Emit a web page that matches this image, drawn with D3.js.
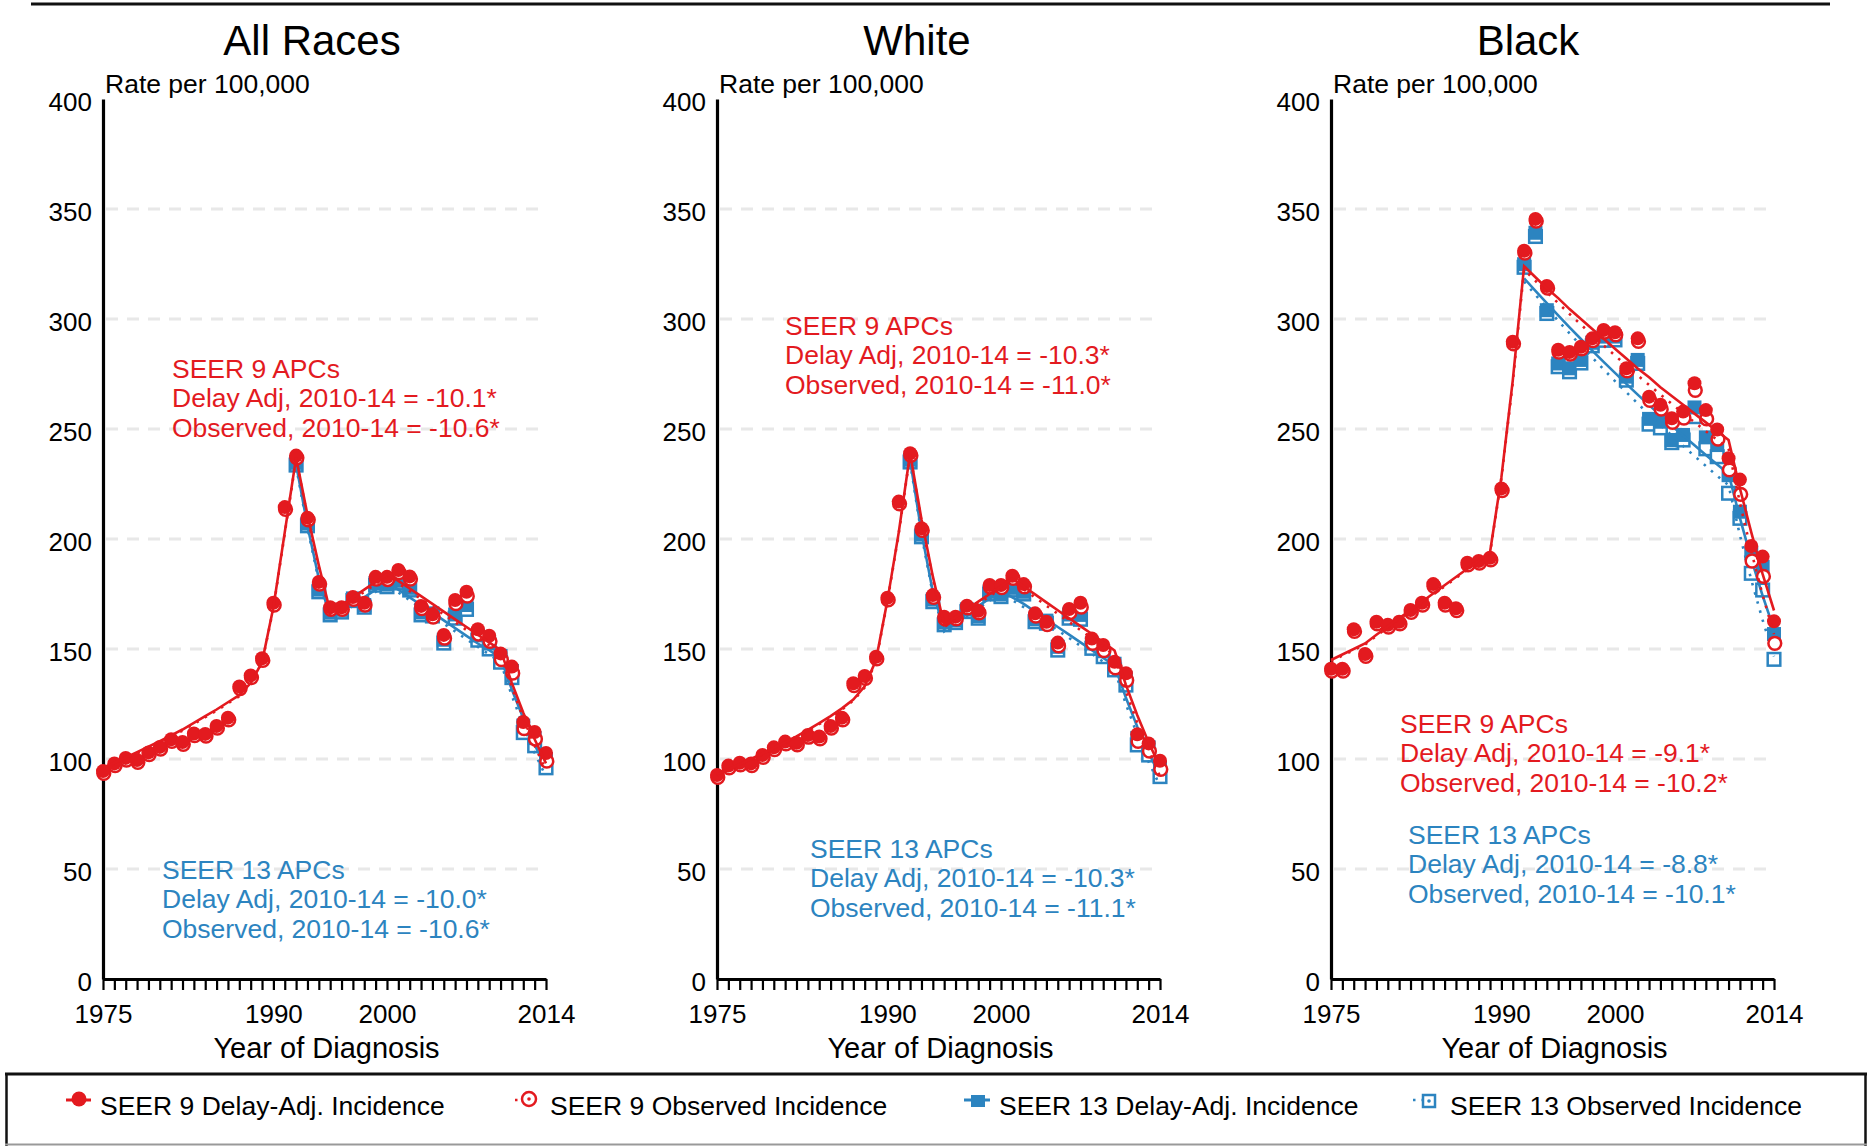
<!DOCTYPE html>
<html>
<head>
<meta charset="utf-8">
<script src="https://cdn.jsdelivr.net/npm/d3@7"></script>
<style>
  body { margin: 0; background: #fff; }
  svg { display: block; }
</style>
</head>
<body>
<svg id="chart" width="1873" height="1146"></svg>
<script>
// ---------------- DATA ----------------
const years9 = [1975,1976,1977,1978,1979,1980,1981,1982,1983,1984,1985,1986,1987,1988,1989,1990,1991,1992,1993,1994,1995,1996,1997,1998,1999,2000,2001,2002,2003,2004,2005,2006,2007,2008,2009,2010,2011,2012,2013,2014];
const years13 = [1992,1993,1994,1995,1996,1997,1998,1999,2000,2001,2002,2003,2004,2005,2006,2007,2008,2009,2010,2011,2012,2013,2014];
const panelTitles = ["All Races", "White", "Black"];
const xTickLabels = [1975, 1990, 2000, 2014];
const yTicks = [0, 50, 100, 150, 200, 250, 300, 350, 400];
const gridValues = [50, 100, 150, 200, 250, 300, 350];
const legendLabels = ["SEER 9 Delay-Adj. Incidence", "SEER 9 Observed Incidence", "SEER 13 Delay-Adj. Incidence", "SEER 13 Observed Incidence"];

// All Races
const allS9Delay = [94.5,98,100.5,99.5,103,105.5,109,107.7,111.6,111.4,115,118.8,133,138,145.8,171,214.5,237.9,209.7,180.5,169,169,173.6,171,182.8,182.8,185.9,183,169.6,165.8,156.4,172.3,176,159,156,148,142,116.8,112.3,102.7];
const allS9Obs = [93.5,97,99.5,98.5,102,104.5,108,106.7,110.6,110.4,114,117.8,132,137,144.8,170,213.5,236.9,208.7,179.5,168,168,172.6,170,181.8,181.6,184.7,181.8,168.4,164.5,154.9,170.6,174,156.8,153.5,145.2,139,113.8,109.1,99];
const allS13Delay = [234.6,207,177,166.5,167.8,173,170,180,179.3,181,177.8,166.6,166.2,154.2,165.7,170,156.2,152.5,146.8,140,115.2,109.5,100];
const allS13Obs = [233.6,206,176,165.5,166.8,172,169,179,178.3,180,176.8,165.5,165,152.7,164,168,154,150,144,137,112,106,96];
const allT9Delay = [96,98.3,100.7,103.1,105.6,108.1,110.7,113.4,116.4,119.5,122.5,125.8,129,134.5,144,169,203,237,211,188,167,170,173.5,177,180.5,184,181,177.5,174,170.5,167,163.5,160,156.5,153,149.5,134.5,121,109,98];
const allT9Obs = [95.5,97.8,100.2,102.6,105.1,107.6,110.2,112.9,115.9,119,122,125.3,128.5,134,143.5,168.5,202.5,236.5,210,187,166,169,172.5,176,179.5,183,179.8,176.3,172.7,169.2,165.7,162.2,158.6,155.2,151.7,148.2,132.5,118.5,106,94.8];
const allT13Delay = [234,206,182,164.5,167.5,170.5,173.5,177,180.5,177,173.5,170,166.5,163,159.5,156,152.5,149.5,146,131.5,118.5,106.5,96];
const allT13Obs = [233,205,181,163.5,166.5,169.5,172.5,176,179.3,175.7,172.2,168.6,165,161.5,158,154.4,151,147.5,144,128.7,115,102.8,91.9];

// White
const whiteS9Delay = [92.7,97,98.3,98,101.8,105.3,107.9,107.4,110.9,110.2,115,118.8,134.4,137.7,146.5,173.3,217,239,204.9,174.5,164.7,164.7,169.7,167.4,179.1,179.1,183.3,179.5,166.2,162.4,152.9,168.2,171,154.8,151.8,144.2,139,111.2,107.1,99.2];
const whiteS9Obs = [91.7,96,97.3,97,100.8,104.3,106.9,106.4,109.9,109.2,114,117.8,133.4,136.7,145.5,172.3,216,238,203.9,173.5,163.7,163.7,168.7,166.4,178.1,177.9,182.1,178.3,165,161.1,151.4,166.5,169,152.6,149.3,141.4,135.8,108,103.6,95.3];
const whiteS13Delay = [236,202,172.5,162,163,168,165,176,174.8,177.8,176,163.5,162.9,151,165.7,165.5,152.5,149,143.3,136.6,109.6,105.3,96];
const whiteS13Obs = [235,201,171.5,161,162,167,164,175,173.8,176.8,175,162.4,161.7,149.5,164,163.5,150.3,146.5,140.5,133.6,106.4,101.8,92];
const whiteT9Delay = [93,95.3,97.6,100,102.5,105,107.6,110.3,113.2,116.3,119.5,123,127,133,145,172,203,239,209,183,161,164.5,168,171.5,175,178.5,182,178.4,174.8,171.2,167.6,164,160.4,156.8,153,149.3,133.7,119.9,107.5,96.5];
const whiteT9Obs = [92.5,94.8,97.1,99.5,102,104.5,107.1,109.8,112.7,115.8,119,122.5,126.5,132.5,144.5,171.5,202.5,238.5,208,182,160,163.5,167,170.5,174,177.5,180.8,177.1,173.4,169.7,166,162.3,158.6,154.9,151,147,130.8,116.4,103.6,92.2];
const whiteT13Delay = [236,203,176,159,162.5,166,169.5,173,176.5,173.5,170.5,167,163.5,160,156.5,153,149.5,146,142.5,127.8,114.7,102.9,92.3];
const whiteT13Obs = [235,202,175,158,161.5,165,168.5,172,175.3,172.2,169,165.5,162,158.5,155,151.4,147.8,144.2,140.5,124.9,111,98.7,87.7];

// Black
const blackS9Delay = [141,141,159,147.7,162.4,161,162.4,167.7,171,179.5,171,168.5,189.2,190,191.5,223,289.7,331,345.5,315,286,285,287.4,291.2,295,294,277.6,291.2,264.7,261,254.9,257.9,270.8,258.6,249.8,236.7,227,196.8,192,162.6];
const blackS9Obs = [140,140,158,146.7,161.4,160,161.4,166.7,170,178.5,170,167.5,188.2,189,190.5,222,288.7,330,344.5,314,285,284,286.4,290.2,294,292.8,276.4,289.8,263,259,253,255,267.6,254.6,245.4,231.4,220.3,190,183,152.6];
const blackS13Delay = [324.9,339.2,304,279.8,277.6,281.4,289.2,292,292,273.8,281.4,254.6,253.3,245,247.3,259.8,246.2,242.7,229,212.4,193.5,187.4,156.8];
const blackS13Obs = [323.5,337.5,302.5,278.3,276,280,287.8,290.3,290.5,272.2,279.8,252.2,250.5,243.8,245,255.6,241,237.4,220.8,209.4,184.4,176.8,145.3];
const blackT9Delay = [145,147.5,150,152.5,156.5,160.2,164,167.7,171.5,175.2,179,182.7,186.5,190.2,194,228,272,324,319,314,309.5,304.5,300,295.5,291,286.5,282,277.5,273.5,269,265,261,257,253,249,245,223,203,184,167.5];
const blackT9Obs = [144.5,147,149.5,152,156,159.7,163.5,167.2,171,174.7,178.5,182.2,186,189.7,193.5,227.5,271,322.5,317.3,312.2,307.2,302.3,297.5,292.7,288,283.4,278.9,274.4,270,265.7,261.4,257.2,253.1,249,245,241,216.4,194.4,174.5,156.7];
const blackT13Delay = [318.5,312.8,307.2,301.6,296.2,290.9,285.6,280.5,275.5,270.5,265.6,260.9,256.2,251.5,247,242.6,238.2,233.9,229.7,209.5,191,174.2,158.9];
const blackT13Obs = [317,311,305,299.2,293.5,287.9,282.5,277.1,271.8,266.7,261.6,256.6,251.8,247,242.3,237.7,233.2,228.7,224.4,201.7,181.4,163.1,146.6];

const notes9 = [
  ["SEER 9 APCs", "Delay Adj, 2010-14 = -10.1*", "Observed, 2010-14 = -10.6*"],
  ["SEER 9 APCs", "Delay Adj, 2010-14 = -10.3*", "Observed, 2010-14 = -11.0*"],
  ["SEER 9 APCs", "Delay Adj, 2010-14 = -9.1*", "Observed, 2010-14 = -10.2*"]
];
const notes13 = [
  ["SEER 13 APCs", "Delay Adj, 2010-14 = -10.0*", "Observed, 2010-14 = -10.6*"],
  ["SEER 13 APCs", "Delay Adj, 2010-14 = -10.3*", "Observed, 2010-14 = -11.1*"],
  ["SEER 13 APCs", "Delay Adj, 2010-14 = -8.8*", "Observed, 2010-14 = -10.1*"]
];

// ---------------- LAYOUT / STYLE ----------------
const FONT = "'Liberation Sans', Arial, Helvetica, sans-serif";
const RED = "#e31a1f";
const BLUE = "#2c84c0";
const layout = {
  panelX0: [103, 717, 1331],
  plotW: 443,
  yTop: 99,
  yBottom: 979,
  titleX: [312, 917, 1528],
  titleY: 55,
  note9Pos: [[172, 378], [785, 335], [1400, 733]],
  note13Pos: [[162, 879], [810, 858], [1408, 844]],
  noteLH: 29.3,
  legendTextX: [100, 550, 999, 1450],
  legendY: 1115,
  legendMarkY: 1100
};

const panels = [
  {s9d: allS9Delay, s9o: allS9Obs, s13d: allS13Delay, s13o: allS13Obs, t9d: allT9Delay, t9o: allT9Obs, t13d: allT13Delay, t13o: allT13Obs},
  {s9d: whiteS9Delay, s9o: whiteS9Obs, s13d: whiteS13Delay, s13o: whiteS13Obs, t9d: whiteT9Delay, t9o: whiteT9Obs, t13d: whiteT13Delay, t13o: whiteT13Obs},
  {s9d: blackS9Delay, s9o: blackS9Obs, s13d: blackS13Delay, s13o: blackS13Obs, t9d: blackT9Delay, t9o: blackT9Obs, t13d: blackT13Delay, t13o: blackT13Obs}
];

const svg = d3.select("#chart");
svg.append("rect").attr("width", 1873).attr("height", 1146).attr("fill", "#fff");

// top rule
svg.append("line").attr("x1", 31).attr("x2", 1830).attr("y1", 4).attr("y2", 4)
  .attr("stroke", "#111").attr("stroke-width", 3);

const zip = (yrs, vals) => yrs.map((yr, i) => ({year: yr, value: vals[i]}));

panels.forEach((p, i) => {
  const x0 = layout.panelX0[i];
  const x = d3.scaleLinear().domain([1975, 2014]).range([x0, x0 + layout.plotW]);
  const y = d3.scaleLinear().domain([0, 400]).range([layout.yBottom, layout.yTop]);
  const g = svg.append("g");

  // title
  g.append("text").attr("x", layout.titleX[i]).attr("y", layout.titleY)
    .attr("text-anchor", "middle").attr("font-family", FONT).attr("font-size", 42)
    .attr("fill", "#000").text(panelTitles[i]);

  // gridlines
  g.selectAll("line.grid").data(gridValues).join("line").attr("class", "grid")
    .attr("x1", x0 + 3).attr("x2", x(2014) - 2)
    .attr("y1", d => y(d)).attr("y2", d => y(d))
    .attr("stroke", "#e8e8e8").attr("stroke-width", 3).attr("stroke-dasharray", "12,9");

  // y axis
  const yAxis = d3.axisLeft(y).tickValues(yTicks).tickSize(0).tickSizeOuter(0).tickPadding(11);
  const yg = g.append("g").attr("transform", `translate(${x0},0)`).call(yAxis);
  yg.attr("font-family", FONT).attr("font-size", 26);
  yg.select(".domain").attr("stroke", "#000").attr("stroke-width", 3.2);
  yg.selectAll(".tick text").attr("fill", "#000").attr("dy", "0.45em");

  // x axis
  const xAxis = d3.axisBottom(x).tickValues(years9).tickSize(11).tickSizeOuter(0)
    .tickFormat(d => xTickLabels.includes(d) ? String(d) : "");
  const xg = g.append("g").attr("transform", `translate(0,${layout.yBottom})`).call(xAxis);
  xg.attr("font-family", FONT).attr("font-size", 26);
  xg.select(".domain").attr("stroke", "#000").attr("stroke-width", 3.2);
  xg.selectAll(".tick line").attr("stroke", "#000").attr("stroke-width", 2.2);
  xg.selectAll(".tick text").attr("fill", "#000").attr("y", 44).attr("dy", 0);

  // axis titles
  g.append("text").attr("x", x0 + 2).attr("y", 93).attr("font-family", FONT)
    .attr("font-size", 26.5).attr("fill", "#000").text("Rate per 100,000");
  g.append("text").attr("x", x0 + layout.plotW / 2 + 2).attr("y", 1058).attr("text-anchor", "middle")
    .attr("font-family", FONT).attr("font-size", 29).attr("fill", "#000").text("Year of Diagnosis");

  const line = d3.line().x(d => x(d.year)).y(d => y(d.value));

  // SEER 13 markers
  const s13o = zip(years13, p.s13o), s13d = zip(years13, p.s13d);
  g.selectAll("rect.s13o").data(s13o).join("rect").attr("class", "s13o")
    .attr("x", d => x(d.year) - 6.3).attr("y", d => y(d.value) - 6.3)
    .attr("width", 12.6).attr("height", 12.6)
    .attr("fill", "#fff").attr("stroke", BLUE).attr("stroke-width", 2.5);
  g.selectAll("rect.s13d").data(s13d).join("rect").attr("class", "s13d")
    .attr("x", d => x(d.year) - 7).attr("y", d => y(d.value) - 7)
    .attr("width", 14).attr("height", 14).attr("fill", BLUE);

  // SEER 13 trends
  g.append("path").datum(zip(years13, p.t13o)).attr("d", line).attr("fill", "none")
    .attr("stroke", BLUE).attr("stroke-width", 2.6).attr("stroke-dasharray", "2.5,7");
  g.append("path").datum(zip(years13, p.t13d)).attr("d", line).attr("fill", "none")
    .attr("stroke", BLUE).attr("stroke-width", 2.6);

  // SEER 9 markers
  const s9o = zip(years9, p.s9o), s9d = zip(years9, p.s9d);
  g.selectAll("circle.s9o").data(s9o).join("circle").attr("class", "s9o")
    .attr("cx", d => x(d.year) + 0.8).attr("cy", d => y(d.value)).attr("r", 6.4)
    .attr("fill", "#fff").attr("stroke", RED).attr("stroke-width", 2.5);
  g.selectAll("circle.s9d").data(s9d).join("circle").attr("class", "s9d")
    .attr("cx", d => x(d.year)).attr("cy", d => y(d.value)).attr("r", 7)
    .attr("fill", RED);

  // SEER 9 trends
  g.append("path").datum(zip(years9, p.t9o)).attr("d", line).attr("fill", "none")
    .attr("stroke", RED).attr("stroke-width", 2.6).attr("stroke-dasharray", "2.5,7");
  g.append("path").datum(zip(years9, p.t9d)).attr("d", line).attr("fill", "none")
    .attr("stroke", RED).attr("stroke-width", 2.6);

  // annotations
  const n9 = g.append("text").attr("font-family", FONT).attr("font-size", 26.5).attr("fill", RED);
  notes9[i].forEach((t, k) => n9.append("tspan").attr("x", layout.note9Pos[i][0])
    .attr("y", layout.note9Pos[i][1] + k * layout.noteLH).text(t));
  const n13 = g.append("text").attr("font-family", FONT).attr("font-size", 26.5).attr("fill", BLUE);
  notes13[i].forEach((t, k) => n13.append("tspan").attr("x", layout.note13Pos[i][0])
    .attr("y", layout.note13Pos[i][1] + k * layout.noteLH).text(t));
});

// ---------------- LEGEND ----------------
const lg = svg.append("g");
lg.append("line").attr("x1", 5).attr("x2", 1867).attr("y1", 1074).attr("y2", 1074)
  .attr("stroke", "#111").attr("stroke-width", 3);
lg.append("line").attr("x1", 6.5).attr("x2", 6.5).attr("y1", 1073).attr("y2", 1146)
  .attr("stroke", "#111").attr("stroke-width", 2.5);
lg.append("line").attr("x1", 1865.5).attr("x2", 1865.5).attr("y1", 1073).attr("y2", 1146)
  .attr("stroke", "#111").attr("stroke-width", 2.5);
lg.append("line").attr("x1", 5).attr("x2", 1867).attr("y1", 1144.5).attr("y2", 1144.5)
  .attr("stroke", "#999").attr("stroke-width", 2);

const my = layout.legendMarkY;
legendLabels.forEach((lab, k) => {
  const tx = layout.legendTextX[k];
  const cx = tx - 21;
  if (k === 0) {
    lg.append("line").attr("x1", cx - 13).attr("x2", cx + 12).attr("y1", my).attr("y2", my)
      .attr("stroke", RED).attr("stroke-width", 3);
    lg.append("circle").attr("cx", cx).attr("cy", my - 1).attr("r", 7.5).attr("fill", RED);
  } else if (k === 1) {
    lg.append("line").attr("x1", cx - 14).attr("x2", cx - 6).attr("y1", my).attr("y2", my)
      .attr("stroke", RED).attr("stroke-width", 2.5).attr("stroke-dasharray", "2.5,6");
    lg.append("circle").attr("cx", cx).attr("cy", my - 1).attr("r", 7).attr("fill", "#fff")
      .attr("stroke", RED).attr("stroke-width", 2.5);
    lg.append("circle").attr("cx", cx).attr("cy", my - 1).attr("r", 1.8).attr("fill", RED);
  } else if (k === 2) {
    lg.append("line").attr("x1", cx - 14).attr("x2", cx + 12).attr("y1", my).attr("y2", my)
      .attr("stroke", BLUE).attr("stroke-width", 3);
    lg.append("rect").attr("x", cx - 7).attr("y", my - 5).attr("width", 14).attr("height", 12).attr("fill", BLUE);
  } else {
    lg.append("line").attr("x1", cx - 16).attr("x2", cx - 6).attr("y1", my).attr("y2", my)
      .attr("stroke", BLUE).attr("stroke-width", 2.5).attr("stroke-dasharray", "2.5,6");
    lg.append("rect").attr("x", cx - 6).attr("y", my - 5).attr("width", 12).attr("height", 12)
      .attr("fill", "#fff").attr("stroke", BLUE).attr("stroke-width", 2.5);
    lg.append("circle").attr("cx", cx).attr("cy", my + 1).attr("r", 1.8).attr("fill", BLUE);
  }
  lg.append("text").attr("x", tx).attr("y", layout.legendY).attr("font-family", FONT)
    .attr("font-size", 26.5).attr("fill", "#000").text(lab);
});
</script>
</body>
</html>
